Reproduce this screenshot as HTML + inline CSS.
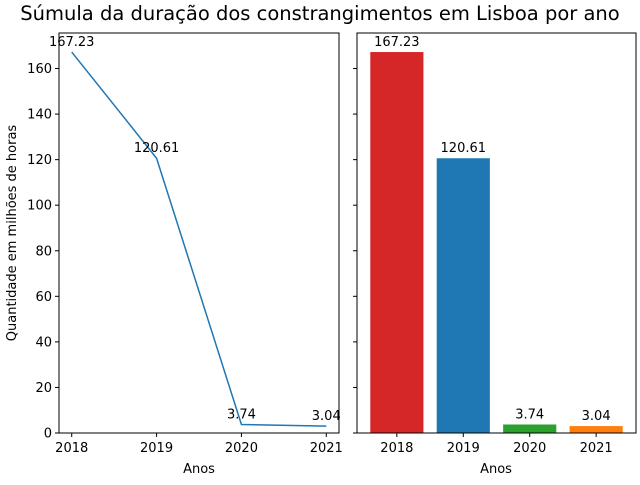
<!DOCTYPE html>
<html><head><meta charset="utf-8"><style>
body{margin:0;background:#fff;}
svg{font-family:"DejaVu Sans","Liberation Sans",sans-serif;}
</style></head><body>
<svg id="c" width="640" height="480" xmlns="http://www.w3.org/2000/svg">
<text x="320" y="20" text-anchor="middle" font-size="19.5">Súmula da duração dos constrangimentos em Lisboa por ano</text>
<text transform="translate(16,233) rotate(-90)" text-anchor="middle" font-size="13">Quantidade em milhões de horas</text>
<text x="199" y="473" text-anchor="middle" font-size="13">Anos</text>
<text x="496" y="473" text-anchor="middle" font-size="13">Anos</text>
<g id="g"></g>
</svg>
<script>
const years = ["2018","2019","2020","2021"];
const values = [167.23, 120.61, 3.74, 3.04];
const barColors = ["#d62728","#1f77b4","#2ca02c","#ff7f0e"];
const yTicks = [0,20,40,60,80,100,120,140,160];

const NS="http://www.w3.org/2000/svg";
const g=document.getElementById('g');
function mk(t,a,txt){const e=document.createElementNS(NS,t);for(const k in a)e.setAttribute(k,a[k]);if(txt!==undefined)e.textContent=txt;g.appendChild(e);return e;}
const plotTop=33,plotBot=433,ymax=Math.max(...values)*1.05;
const y=v=>plotBot-(v/ymax)*(plotBot-plotTop);
const L={x0:59,x1:339},R={x0:357,x1:636};
const n=values.length;
const xlin=i=>L.x0+((i+0.05*(n-1))/((n-1)*1.1))*(L.x1-L.x0);
const xb=i=>R.x0+((i+0.6)/(n-1+1.2))*(R.x1-R.x0);
const bw=0.8/(n-1+1.2)*(R.x1-R.x0);

let d=values.map((v,i)=>(i?'L':'M')+xlin(i)+','+y(v)).join(' ');
let e=mk('path',{d:d,fill:'none',stroke:'#1f77b4','stroke-width':1.5});


values.forEach((v,i)=>{
  let t=mk('text',{x:xlin(i),y:y(v)-6,'text-anchor':'middle','font-size':13},v.toFixed(2));
  
  
});
values.forEach((v,i)=>{
  let r=mk('rect',{x:xb(i)-bw/2,y:y(v),width:bw,height:plotBot-y(v),fill:barColors[i]});
  
  
  let t=mk('text',{x:xb(i),y:y(v)-6,'text-anchor':'middle','font-size':13},v.toFixed(2));
  
  
});
[L,R].forEach((a,k)=>{
  let f=mk('rect',{x:a.x0,y:plotTop,width:a.x1-a.x0,height:plotBot-plotTop,fill:'none',stroke:'#000','stroke-width':1});
  
  
  yTicks.forEach(tv=>{
    mk('line',{x1:a.x0-4,x2:a.x0,y1:y(tv),y2:y(tv),stroke:'#000'});
    if(!k){let t=mk('text',{x:a.x0-7,y:y(tv)+4.5,'text-anchor':'end','font-size':13},tv);
      
      }
  });
  years.forEach((yr,i)=>{
    const xx=k?xb(i):xlin(i);
    mk('line',{x1:xx,x2:xx,y1:plotBot,y2:plotBot+4,stroke:'#000'});
    let t=mk('text',{x:xx,y:plotBot+19,'text-anchor':'middle','font-size':13},yr);
    
    
  });
});
</script>
</body></html>
